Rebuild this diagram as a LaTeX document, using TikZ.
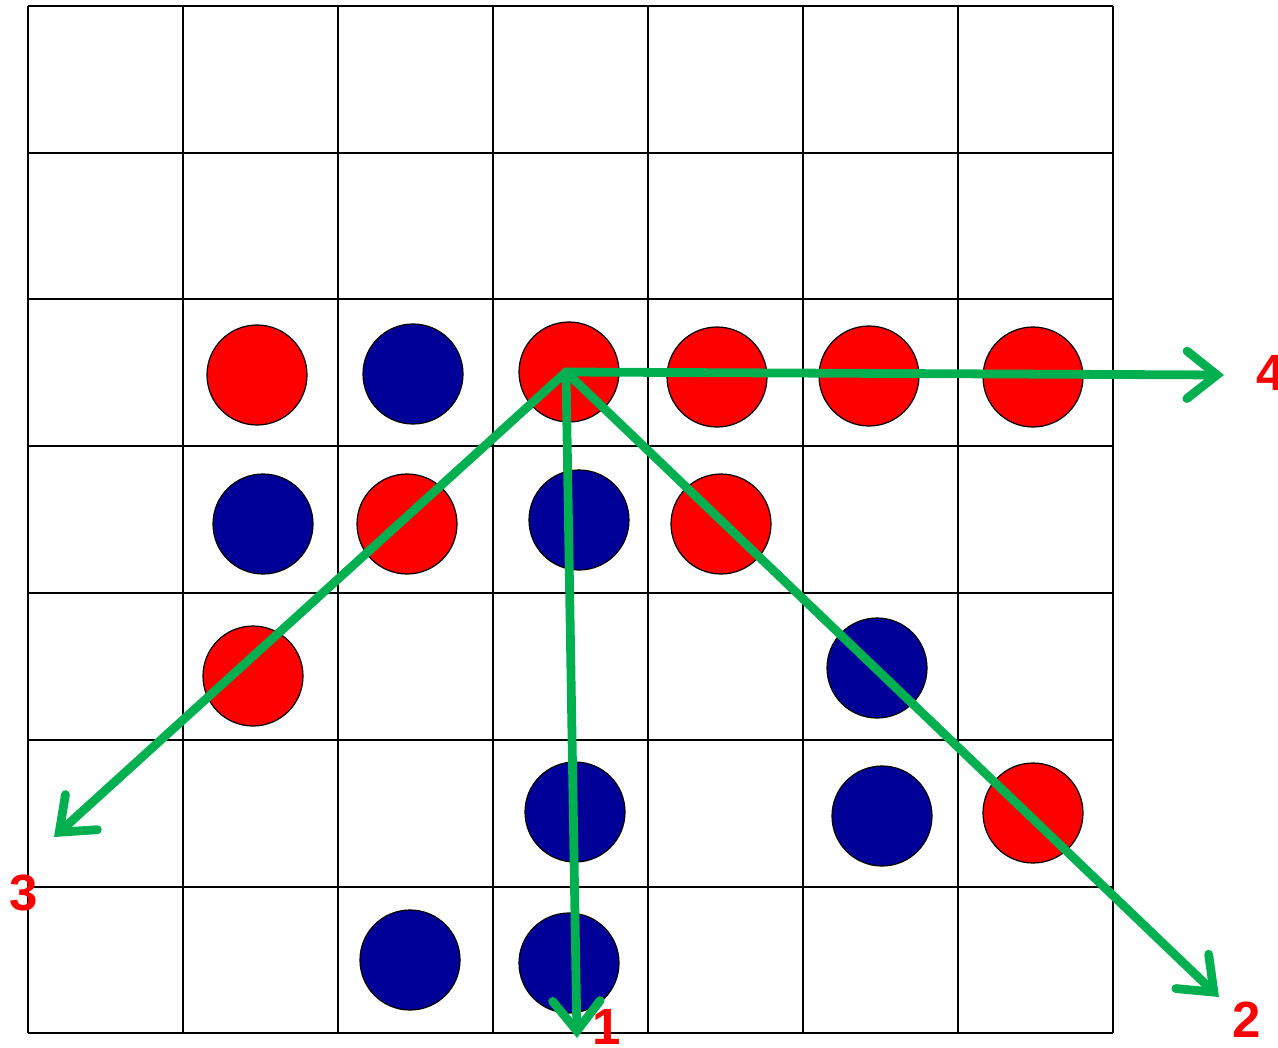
\documentclass[tikz,border=0pt]{standalone}
\usepackage{fontspec}
\setmainfont{Liberation Sans}
\usetikzlibrary{arrows.meta}
\definecolor{tokred}{RGB}{255,0,0}
\definecolor{tokblue}{RGB}{0,0,153}
\definecolor{rayg}{RGB}{0,176,80}
\begin{document}
\begin{tikzpicture}[x=0.02cm, y=-0.02cm,
        red token/.style={circle, draw=black, line width=0.7pt, fill=tokred, minimum size=2cm, inner sep=0pt},
        blue token/.style={circle, draw=black, line width=0.7pt, fill=tokblue, minimum size=2cm, inner sep=0pt},
        ray/.style={rayg, line width=5pt, line cap=round, line join=round, -{Straight Barb[length=0.6cm, width=0.95cm, line cap=round]}},
        num/.style={text=tokred, font=\bfseries\fontsize{29}{29}\selectfont, inner sep=0pt}
    ]
    \useasboundingbox (0,0) rectangle (1278,1048);

    % board
    \foreach \x in {28,183,338,493,648,803,958,1113}
        \draw[line width=1.5pt] (\x,6) -- (\x,1033);
    \foreach \y in {6,153,299,446,593,740,887,1033}
        \draw[line width=1.5pt] (28,\y) -- (1113,\y);

    % red tokens
    \node[red token] (r1) at (257,375) {};
    \node[red token] (r2) at (569,372) {};
    \node[red token] (r3) at (717,377) {};
    \node[red token] (r4) at (869,376) {};
    \node[red token] (r5) at (1033,377) {};
    \node[red token] (r6) at (407,524) {};
    \node[red token] (r7) at (721,524) {};
    \node[red token] (r8) at (253,676) {};
    \node[red token] (r9) at (1033,813) {};

    % blue tokens
    \node[blue token] (b1) at (413,374) {};
    \node[blue token] (b2) at (263,524) {};
    \node[blue token] (b3) at (579,520) {};
    \node[blue token] (b4) at (877,668) {};
    \node[blue token] (b5) at (575,812) {};
    \node[blue token] (b6) at (882,816) {};
    \node[blue token] (b7) at (410,960) {};
    \node[blue token] (b8) at (569,963) {};

    % search directions
    \coordinate (o) at (566,372);
    \coordinate (e1) at (577,1038);
    \coordinate (e2) at (1219,997);
    \coordinate (e3) at (54,837);
    \coordinate (e4) at (1224,375);
    \draw[ray] (o) -- (e1);
    \draw[ray] (o) -- (e2);
    \draw[ray] (o) -- (e3);
    \draw[ray] (o) -- (e4);

    \node[num] (n1) at (607,1027) {1};
    \node[num] (n2) at (1247,1020) {2};
    \node[num] (n3) at (24,893) {3};
    \node[num, anchor=west] (n4) at (1256,373) {4};
\end{tikzpicture}
\end{document}
